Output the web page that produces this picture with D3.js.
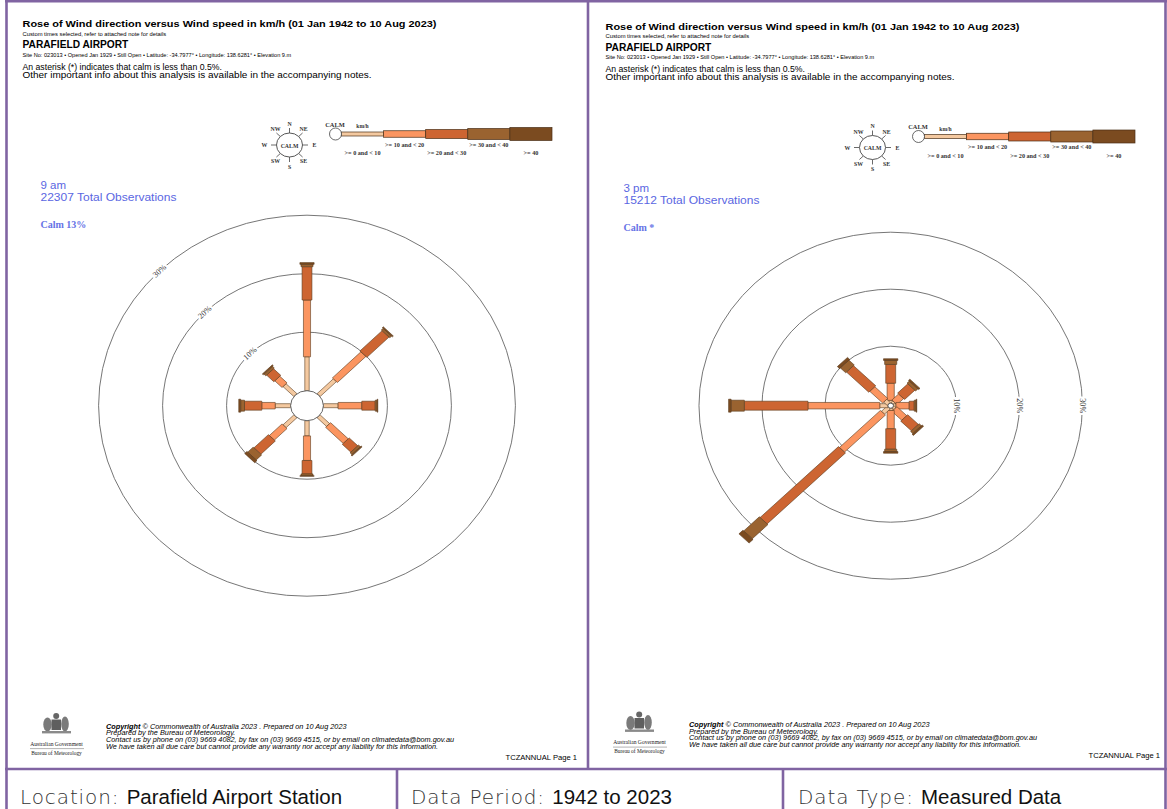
<!DOCTYPE html>
<html>
<head>
<meta charset="utf-8">
<script src="https://cdn.jsdelivr.net/npm/d3@7"></script>
<style>
  html, body { margin: 0; padding: 0; background: #fff; }
  svg { display: block; }
</style>
</head>
<body>
<svg id="chart" width="1167" height="809"></svg>
<script>
// ---- Data -------------------------------------------------------------
// Wind directions, clockwise from north
const directions = ["N", "NE", "E", "SE", "S", "SW", "W", "NW"];
// Speed classes in km/h
const speedClasses = [">= 0 and < 10", ">= 10 and < 20", ">= 20 and < 30", ">= 30 and < 40", ">= 40"];
// Percentage rings
const ringTicks = [10, 20, 30];

// 9 am: % of observations per direction, one array per speed class
const am9Speed0to10  = [5.8, 3.6, 2.3, 2.1, 2.6, 2.4, 2.4, 2.4];
const am9Speed10to20 = [9.7, 6.3, 3.7, 3.9, 4.2, 2.8, 2.1, 1.6];
const am9Speed20to30 = [5.7, 4.9, 2.1, 1.9, 2.3, 3.2, 2.7, 1.6];
const am9Speed30to40 = [0.4, 0.4, 0.3, 0.4, 0.3, 1.2, 0.6, 0.4];
const am9Speed40plus = [0.3, 0.2, 0.1, 0.2, 0.1, 0.5, 0.3, 0.2];

// 3 pm: % of observations per direction, one array per speed class
const pm3Speed0to10  = [0.5, 0.4, 0.4, 0.4, 0.4, 1.3, 1.3, 0.8];
const pm3Speed10to20 = [3.0, 1.5, 2.1, 2.2, 3.2, 9.2, 11.4, 2.9];
const pm3Speed20to30 = [3.3, 2.3, 0.8, 2.4, 3.6, 17.6, 10.1, 5.0];
const pm3Speed30to40 = [0.7, 0.5, 0.3, 0.5, 0.4, 3.5, 2.1, 1.2];
const pm3Speed40plus = [0.3, 0.3, 0.1, 0.3, 0.3, 0.9, 0.4, 0.5];

const panelTimes  = ["9 am", "3 pm"];
const panelTotals = [22307, 15212];
const panelCalm   = [13, null];   // null: calm below 0.5%

const reportTitle   = "Rose of Wind direction versus Wind speed in km/h (01 Jan 1942 to 10 Aug 2023)";
const reportNote    = "Custom times selected, refer to attached note for details";
const stationName   = "PARAFIELD AIRPORT";
const stationLine   = "Site No: 023013 \u2022 Opened Jan 1929 \u2022 Still Open  \u2022 Latitude: -34.7977\u00b0 \u2022 Longitude: 138.6281\u00b0 \u2022 Elevation 9.m";
const infoLines     = ["An asterisk (*) indicates that calm is less than 0.5%.",
                       "Other important info about this analysis is available in the accompanying notes."];
const footerLines   = ["\u00a9 Commonwealth of Australia 2023 . Prepared on 10 Aug 2023",
                       "Prepared by the Bureau of Meteorology.",
                       "Contact us by phone on (03) 9669 4082, by fax on (03) 9669 4515, or by email on climatedata@bom.gov.au",
                       "We have taken all due care but cannot provide any warranty nor accept any liability for this information."];
const pageTag       = "TCZANNUAL Page 1";
const captionKeys   = ["Location: ", "Data Period: ", "Data Type: "];
const captionValues = ["Parafield Airport Station", "1942 to 2023", "Measured Data"];

// ---- Styles -----------------------------------------------------------
const speedColors = ["#f4c9a0", "#fb9560", "#cd6532", "#9a6330", "#7b4b20"];
const barWidths   = [4, 6.5, 9, 11, 13];
const frameColor  = "#8064a2";
const labelBlue   = "#5a66e2";
const sansFont    = "'Liberation Sans', Arial, sans-serif";
const serifFont   = "'Liberation Serif', 'Times New Roman', serif";

// Per-panel layout
const panels = [
  { dx: 0,   dy: 0,   fdy: 0,    cx: 307.0, cy: 405.7, calmR: 15,  step: 5.85, sx: 1.094,
    series: [am9Speed0to10, am9Speed10to20, am9Speed20to30, am9Speed30to40, am9Speed40plus] },
  { dx: 583, dy: 2.5, fdy: -1.5, cx: 890.7, cy: 405.7, calmR: 2.5, step: 5.7,  sx: 1.105,
    series: [pm3Speed0to10, pm3Speed10to20, pm3Speed20to30, pm3Speed30to40, pm3Speed40plus] }
];

const svg = d3.select("#chart");
svg.append("rect").attr("width", 1167).attr("height", 809).attr("fill", "#fff");

function txt(g, x, y, s, o = {}) {
  const t = g.append("text").attr("x", x).attr("y", y).text(s)
    .attr("font-family", o.family || sansFont)
    .attr("font-size", o.size || 8)
    .attr("fill", o.fill || "#000");
  if (o.weight) t.attr("font-weight", o.weight);
  if (o.style) t.attr("font-style", o.style);
  if (o.anchor) t.attr("text-anchor", o.anchor);
  if (o.base) t.attr("dominant-baseline", o.base);
  if (o.len) t.attr("textLength", o.len).attr("lengthAdjust", "spacingAndGlyphs");
  return t;
}

function drawHeader(g, p, i) {
  const h = g.append("g").attr("transform", `translate(${p.dx},${p.dy})`);
  txt(h, 22.5, 27, reportTitle, { size: 9.6, weight: "bold", len: 414 });
  txt(h, 22.5, 35.5, reportNote, { size: 5.8 });
  txt(h, 22.5, 48.3, stationName, { size: 10.2, weight: "bold" });
  txt(h, 22.5, 56.5, stationLine, { size: 5.6 });
  txt(h, 22.5, 69.5, infoLines[0], { size: 8.7 });
  txt(h, 22.5, 77.5, infoLines[1], { size: 8.7, len: 349 });

  txt(h, 40.5, 189, panelTimes[i], { size: 11.5, fill: labelBlue });
  txt(h, 40.5, 201, `${panelTotals[i]} Total Observations`, { size: 11.5, fill: labelBlue, len: 136 });
  const calmText = panelCalm[i] == null ? "Calm *" : `Calm ${panelCalm[i]}%`;
  txt(h, 40.5, 228, calmText, { size: 10, family: serifFont, weight: "bold", fill: "#6673e6" });
}

function drawLegend(g, p) {
  const L = g.append("g").attr("transform", `translate(${p.dx},${p.dy})`);
  // compass key
  const cc = { x: 289.5, y: 145 };
  const comp = L.append("g").attr("transform", `translate(${cc.x},${cc.y})`);
  directions.forEach((d, i) => {
    const a = i * Math.PI / 4;
    const sa = Math.sin(a), ca = Math.cos(a);
    comp.append("line")
      .attr("x1", 13 * sa).attr("y1", -12 * ca)
      .attr("x2", 18.5 * sa).attr("y2", -17 * ca)
      .attr("stroke", "#444").attr("stroke-width", 0.8);
    const diag = i % 2 === 1;
    const lx = diag ? 14 * Math.sign(sa) : 25 * sa;
    const ly = diag ? -16 * Math.sign(ca) : -21.5 * ca;
    txt(comp, lx, ly, d, { size: 5.8, family: serifFont, weight: "bold", anchor: "middle", base: "central", fill: "#333" });
  });
  comp.append("ellipse").attr("rx", 13).attr("ry", 12)
    .attr("fill", "#fff").attr("stroke", "#444").attr("stroke-width", 0.9);
  txt(comp, 0, 0.5, "CALM", { size: 5.8, family: serifFont, weight: "bold", anchor: "middle", base: "central", fill: "#333" });

  // speed key
  const x = d3.scaleLinear().domain([0, speedClasses.length]).range([341.5, 552]);
  const yMid = 134;
  L.selectAll("rect.key").data(speedClasses).join("rect")
    .attr("x", (d, k) => x(k)).attr("width", (d, k) => x(k + 1) - x(k))
    .attr("y", (d, k) => yMid - barWidths[k] / 2).attr("height", (d, k) => barWidths[k])
    .attr("fill", (d, k) => speedColors[k]).attr("stroke", "#4a3018").attr("stroke-width", 0.7);
  L.append("circle").attr("cx", 335.5).attr("cy", yMid).attr("r", 6)
    .attr("fill", "#fff").attr("stroke", "#444").attr("stroke-width", 0.8);
  txt(L, 335, 126.5, "CALM", { size: 6.4, family: serifFont, weight: "bold", anchor: "middle", fill: "#333" });
  txt(L, 362.5, 128, "km/h", { size: 5.6, family: serifFont, weight: "bold", anchor: "middle", fill: "#333" });
  speedClasses.forEach((s, k) => {
    const row = k % 2 === 1 ? 146.5 : 155;
    txt(L, (x(k) + x(k + 1)) / 2, row, s, { size: 6.2, family: serifFont, weight: "bold", anchor: "middle", fill: "#333" });
  });
}

function drawRose(g, p) {
  const r = d3.scaleLinear().domain([0, 30]).range([p.calmR, p.calmR + 30 * p.step]);
  const rose = g.append("g").attr("transform", `translate(${p.cx},${p.cy}) scale(${p.sx},1)`);

  rose.selectAll("circle.ring").data(ringTicks).join("circle")
    .attr("class", "ring").attr("r", d => r(d))
    .attr("fill", "none").attr("stroke", "#666").attr("stroke-width", 0.9)
    .attr("vector-effect", "non-scaling-stroke");

  // ring labels sit on the direction with the least wind
  const totals = directions.map((d, i) => d3.sum(p.series, s => s[i]));
  const li = d3.minIndex(totals);
  const th = li * Math.PI / 4;
  const rot = Math.atan2(Math.sin(th), p.sx * Math.cos(th)) * 180 / Math.PI;
  ringTicks.forEach(t => {
    const R = r(t);
    const lx = p.cx + p.sx * R * Math.sin(th);
    const ly = p.cy - R * Math.cos(th);
    g.append("text")
      .attr("transform", `translate(${lx},${ly}) rotate(${rot})`)
      .attr("text-anchor", "middle").attr("dominant-baseline", "central")
      .attr("font-family", serifFont).attr("font-size", 8.2)
      .attr("fill", "#333").attr("stroke", "#fff").attr("stroke-width", 4)
      .attr("paint-order", "stroke")
      .text(`${t}%`);
  });

  directions.forEach((d, i) => {
    let cum = 0;
    const segs = p.series.map((s, k) => {
      const seg = { k, r0: r(cum), r1: r(cum + s[i]) };
      cum += s[i];
      return seg;
    });
    rose.append("g").attr("transform", `rotate(${i * 45})`)
      .selectAll("rect").data(segs).join("rect")
      .attr("x", s => -barWidths[s.k] / 2).attr("width", s => barWidths[s.k])
      .attr("y", s => -s.r1).attr("height", s => s.r1 - s.r0)
      .attr("fill", s => speedColors[s.k])
      .attr("stroke", "#5a3a1c").attr("stroke-width", 0.6)
      .attr("vector-effect", "non-scaling-stroke");
  });

  rose.append("circle").attr("r", p.calmR)
    .attr("fill", "#fff").attr("stroke", "#555").attr("stroke-width", 0.9)
    .attr("vector-effect", "non-scaling-stroke");
}

function drawFooter(g, p) {
  const F = g.append("g").attr("transform", `translate(${p.dx},${p.fdy})`);
  // Commonwealth crest, simplified
  const crest = F.append("g").attr("fill", "#7a7a7a");
  crest.append("ellipse").attr("cx", 47.5).attr("cy", 724.5).attr("rx", 4.2).attr("ry", 7);
  crest.append("ellipse").attr("cx", 65).attr("cy", 724).attr("rx", 3.8).attr("ry", 7.5);
  crest.append("rect").attr("x", 51.5).attr("y", 719.5).attr("width", 9.5).attr("height", 10.5).attr("fill", "#5f5f5f");
  crest.append("circle").attr("cx", 56.2).attr("cy", 716).attr("r", 3).attr("fill", "#666");
  crest.append("rect").attr("x", 42).attr("y", 731).attr("width", 29).attr("height", 2.4).attr("fill", "#8a8a8a");
  txt(F, 56.5, 745.5, "Australian Government", { size: 5.6, family: serifFont, anchor: "middle", fill: "#222" });
  F.append("line").attr("x1", 30).attr("x2", 84).attr("y1", 748.6).attr("y2", 748.6)
    .attr("stroke", "#666").attr("stroke-width", 0.5);
  txt(F, 56.5, 754.5, "Bureau of Meteorology", { size: 5.4, family: serifFont, anchor: "middle", fill: "#222" });

  const fs = 7.3;
  const c = F.append("text").attr("x", 106).attr("y", 728.5)
    .attr("font-family", sansFont).attr("font-size", fs).attr("font-style", "italic").attr("fill", "#000");
  c.append("tspan").attr("font-weight", "bold").text("Copyright");
  c.append("tspan").text(" " + footerLines[0]);
  footerLines.slice(1).forEach((l, k) => {
    txt(F, 106, 735.2 + k * 6.7, l, { size: fs, style: "italic" });
  });
  txt(F, 577, 759.5, pageTag, { size: 7.6, anchor: "end" });
}

panels.forEach((p, i) => {
  const g = svg.append("g");
  drawHeader(g, p, i);
  drawLegend(g, p);
  drawRose(g, p);
  drawFooter(g, p);
});

// ---- Page frame and caption row --------------------------------------
const frame = svg.append("g").attr("stroke", frameColor).attr("stroke-width", 2.6).attr("fill", "none");
frame.append("line").attr("x1", 5).attr("x2", 1167).attr("y1", 1.2).attr("y2", 1.2);
frame.append("line").attr("x1", 6.5).attr("x2", 6.5).attr("y1", 0).attr("y2", 809);
frame.append("line").attr("x1", 588).attr("x2", 588).attr("y1", 0).attr("y2", 769);
frame.append("line").attr("x1", 1165.5).attr("x2", 1165.5).attr("y1", 0).attr("y2", 809);
frame.append("line").attr("x1", 5).attr("x2", 1167).attr("y1", 769).attr("y2", 769);
frame.append("line").attr("x1", 397).attr("x2", 397).attr("y1", 769).attr("y2", 809);
frame.append("line").attr("x1", 783).attr("x2", 783).attr("y1", 769).attr("y2", 809);

const captionX = [20, 411, 798];
captionKeys.forEach((k, i) => {
  const t = svg.append("text").attr("x", captionX[i]).attr("y", 803.5);
  t.append("tspan")
    .attr("font-family", "'DejaVu Sans ExtraLight', 'DejaVu Sans', sans-serif")
    .attr("font-weight", 200).attr("font-size", 20).attr("letter-spacing", 0.9)
    .attr("fill", "#333").text(k);
  t.append("tspan").attr("font-family", sansFont).attr("font-size", 20.5)
    .attr("fill", "#111").text(captionValues[i]);
});
</script>
</body>
</html>
